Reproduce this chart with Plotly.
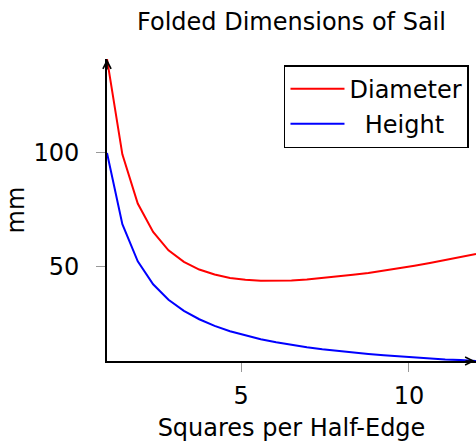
import plotly.graph_objects as go

# Squares per half-edge (sampled positions)
squares = [1.0, 1.458, 1.917, 2.375, 2.833, 3.292, 3.75, 4.208, 4.667, 5.125,
           5.583, 6.042, 6.5, 6.958, 7.417, 7.875, 8.333, 8.792, 9.25, 9.708,
           10.167, 10.625, 11.083, 11.542, 12.0]
# Folded diameter (mm)
diameter = [141.4, 99.4, 77.7, 65.2, 57.1, 52.0, 48.6, 46.4, 44.9, 44.1,
            43.7, 43.6, 43.8, 44.2, 44.8, 45.5, 46.3, 47.1, 48.1, 49.2,
            50.3, 51.5, 52.8, 54.1, 55.5]
# Folded height (mm)
height = [100.0, 68.6, 52.2, 42.1, 35.3, 30.4, 26.7, 23.8, 21.4, 19.5,
          17.9, 16.6, 15.4, 14.4, 13.5, 12.7, 12.0, 11.4, 10.8, 10.3,
          9.8, 9.4, 9.0, 8.7, 8.3]

x_ticks = [5, 10]
y_ticks = [50, 100]

FONT = "DejaVu Sans"
FS = 24

W, H = 476, 442

fig = go.Figure()
fig.add_trace(go.Scatter(x=squares, y=diameter, mode="lines", name="Diameter",
                         line=dict(color="#ff0000", width=2), legendgroup="a"))
fig.add_trace(go.Scatter(x=squares, y=height, mode="lines",
                         name="\u00a0\u00a0Height",
                         line=dict(color="#0000ff", width=2), legendgroup="b"))

fig.update_layout(
    width=W, height=H,
    margin=dict(l=107, r=0, t=59, b=81, autoexpand=False),
    paper_bgcolor="white", plot_bgcolor="white",
    font=dict(family=FONT, size=FS, color="black"),
    title=dict(text="Folded Dimensions of Sail", x=0.5, xref="paper",
               y=1 - 22 / H, yref="container", yanchor="middle",
               font=dict(family=FONT, size=FS, color="black")),
    showlegend=True,
    legend=dict(x=0.981, y=0.98, xanchor="right", yanchor="top",
                bgcolor="white", bordercolor="black", borderwidth=1.5,
                font=dict(family=FONT, size=FS), tracegroupgap=1,
                itemwidth=54),
    xaxis=dict(range=[1, 12], tickvals=x_ticks, ticktext=[str(v) for v in x_ticks],
               showgrid=False, zeroline=False, showline=True, linecolor="black",
               linewidth=2, ticks="outside", ticklen=9, tickcolor="#999999",
               tickwidth=1, ticklabelstandoff=3, automargin=False,
               title=dict(text="Squares per Half-Edge", standoff=11,
                          font=dict(family=FONT, size=FS))),
    yaxis=dict(range=[8.3, 141.4], tickvals=y_ticks, ticktext=[str(v) for v in y_ticks],
               showgrid=False, zeroline=False, showline=True, linecolor="black",
               linewidth=2, ticks="outside", ticklen=9, tickcolor="#999999",
               tickwidth=1, ticklabelstandoff=12, automargin=False,
               title=dict(text="mm", standoff=2,
                          font=dict(family=FONT, size=FS))),
)

# axis arrowheads
fig.add_annotation(x=1, y=0, xref="paper", yref="paper", ax=-12, ay=0,
                   axref="pixel", ayref="pixel", text="", showarrow=True,
                   arrowhead=5, arrowsize=1, arrowwidth=1.6, arrowcolor="black")
fig.add_annotation(x=0, y=1, xref="paper", yref="paper", ax=0, ay=12,
                   axref="pixel", ayref="pixel", text="", showarrow=True,
                   arrowhead=5, arrowsize=1, arrowwidth=1.6, arrowcolor="black")

fig.write_html("out.html", config={"displayModeBar": False},
               post_script="document.body.style.margin='0';"
                           "document.body.style.overflow='hidden';")
